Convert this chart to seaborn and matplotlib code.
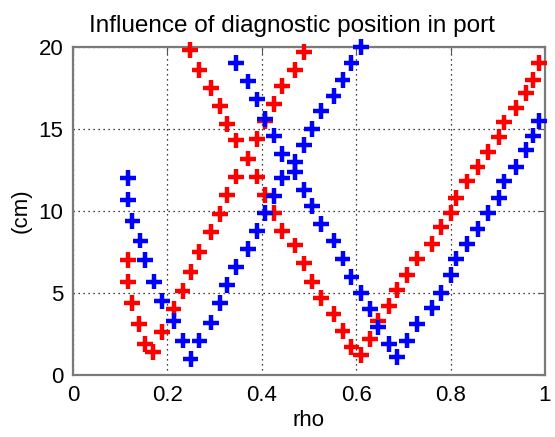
import matplotlib
matplotlib.use("Agg")
import matplotlib.pyplot as plt
import seaborn as sns
import pandas as pd

# Red position: normalized radius (rho) and distance (cm) along each branch
red_rho = [0.116, 0.116, 0.125, 0.140, 0.153, 0.169,
           0.189, 0.213, 0.232, 0.249, 0.268, 0.292, 0.311, 0.327, 0.345, 0.370,
           0.389, 0.407, 0.426, 0.443, 0.470, 0.489,
           0.248, 0.268, 0.292, 0.311, 0.327, 0.345, 0.389, 0.407, 0.426, 0.443,
           0.470, 0.489, 0.506, 0.525, 0.552, 0.571, 0.590, 0.610,
           0.629, 0.647, 0.669, 0.686, 0.707, 0.729, 0.760, 0.780, 0.801, 0.811,
           0.834, 0.857, 0.880, 0.903, 0.913, 0.938, 0.959, 0.975, 0.987]
red_cm = [7.0, 5.7, 4.4, 3.1, 1.9, 1.4,
          2.6, 4.0, 5.1, 6.3, 7.5, 8.7, 9.8, 11.0, 12.1, 13.2,
          14.4, 15.5, 16.5, 17.6, 18.6, 19.7,
          19.8, 18.6, 17.5, 16.4, 15.3, 14.3, 12.1, 11.0, 9.9, 8.8,
          7.9, 6.8, 5.7, 4.7, 3.7, 2.7, 1.7, 1.2,
          2.2, 3.3, 4.2, 5.2, 6.1, 7.1, 8.0, 9.0, 9.9, 10.8,
          11.8, 12.7, 13.6, 14.5, 15.4, 16.3, 17.2, 18.0, 19.0]

# Blue position
blue_rho = [0.116, 0.116, 0.126, 0.143, 0.153, 0.171, 0.189, 0.213, 0.232, 0.249,
            0.268, 0.292, 0.311, 0.327, 0.345, 0.370, 0.389, 0.407, 0.426, 0.443,
            0.470, 0.489, 0.506, 0.525, 0.552, 0.571, 0.590, 0.610,
            0.345, 0.370, 0.389, 0.407, 0.426, 0.443, 0.470, 0.489, 0.506, 0.525,
            0.552, 0.571, 0.590, 0.610, 0.629, 0.647, 0.669, 0.686,
            0.707, 0.729, 0.760, 0.780, 0.801, 0.811, 0.834, 0.857, 0.880, 0.903,
            0.913, 0.938, 0.959, 0.975, 0.987]
blue_cm = [12.0, 10.7, 9.4, 8.2, 7.0, 5.7, 4.5, 3.3, 2.1, 1.0,
           2.1, 3.2, 4.4, 5.5, 6.6, 7.7, 8.8, 9.9, 10.9, 12.0,
           13.0, 14.0, 15.0, 16.1, 17.0, 18.0, 19.0, 20.0,
           19.0, 17.9, 16.8, 15.6, 14.6, 13.5, 12.4, 11.3, 10.3, 9.2,
           8.2, 7.1, 6.0, 5.0, 4.0, 2.9, 1.9, 1.1,
           2.1, 3.1, 4.1, 5.0, 6.1, 7.1, 8.0, 8.9, 9.9, 10.8,
           11.8, 12.7, 13.7, 14.6, 15.5]

x_ticks = [0, 0.2, 0.4, 0.6, 0.8, 1]
x_tick_labels = ["0", "0.2", "0.4", "0.6", "0.8", "1"]
y_ticks = [0, 5, 10, 15, 20]

df = pd.concat([
    pd.DataFrame({"rho": red_rho, "cm": red_cm, "pos": "red"}),
    pd.DataFrame({"rho": blue_rho, "cm": blue_cm, "pos": "blue"}),
], ignore_index=True)

sns.set_style("white")
plt.rcParams["font.family"] = ["Liberation Sans", "DejaVu Sans"]
plt.rcParams["text.color"] = "black"
plt.rcParams["axes.labelcolor"] = "black"
plt.rcParams["xtick.labelcolor"] = "black"
plt.rcParams["ytick.labelcolor"] = "black"

fig = plt.figure(figsize=(5.55, 4.37), dpi=100)
ax = fig.add_axes([73 / 555, 1 - 375 / 437, 472 / 555, 328 / 437])

sns.scatterplot(data=df, x="rho", y="cm", hue="pos",
                palette={"red": "#ff0000", "blue": "#0000ff"},
                marker="+", s=130, linewidth=3.2, legend=False,
                ax=ax, clip_on=False, zorder=3)

ax.set_xlim(0, 1)
ax.set_ylim(0, 20)
ax.set_xticks(x_ticks)
ax.set_xticklabels(x_tick_labels)
ax.set_yticks(y_ticks)
ax.grid(True, color="black", linestyle=(0, (1, 3)), linewidth=0.9)
ax.tick_params(direction="in", length=5, width=0.8, color="#555555",
               top=True, right=True, labelsize=16, pad=7)
for sp in ax.spines.values():
    sp.set_color("#7a7a7a")
    sp.set_linewidth(1.6)

ax.set_xlabel("rho", fontsize=16, labelpad=3)
ax.set_ylabel("(cm)", fontsize=16, labelpad=5)
ax.set_title("Influence of diagnostic position in port", fontsize=17.5,
             pad=11, x=0.464)

fig.savefig("out.png", dpi=100)
